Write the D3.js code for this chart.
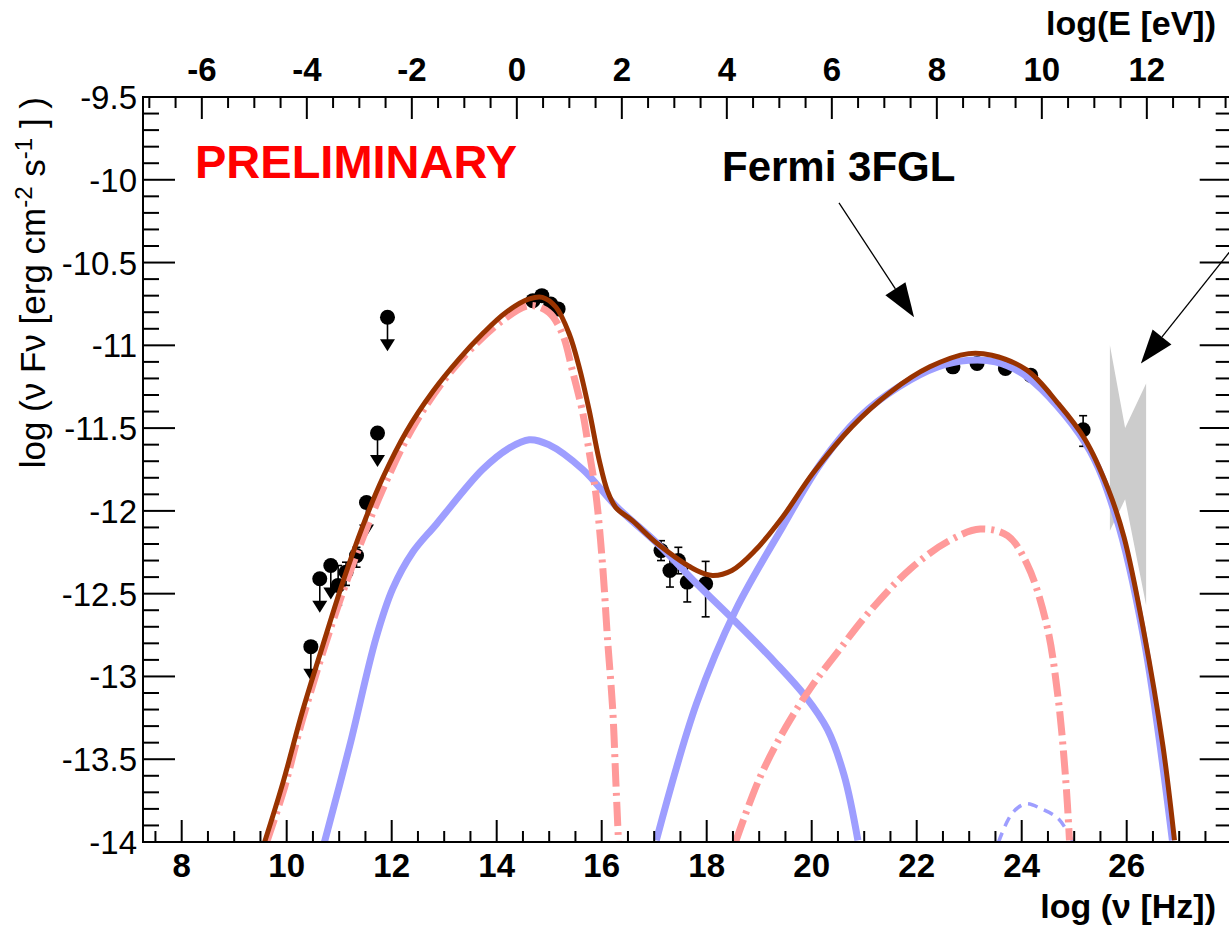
<!DOCTYPE html>
<html>
<head>
<meta charset="UTF-8">
<script src="https://d3js.org/d3.v7.min.js"></script>
<style>
  body { margin: 0; background: #fff; }
  text { font-family: "Liberation Sans", Arial, sans-serif; }
</style>
</head>
<body>
<svg id="chart" width="1229" height="933"></svg>
<script>
// ---- data: [log nu, log nuFnu] ----
const totalModel = [[9.58,-14.0],[9.93,-13.64],[10.31,-13.20],[10.69,-12.81],[11.07,-12.43],[11.45,-12.09],[11.83,-11.80],[12.28,-11.52],[12.78,-11.28],[13.29,-11.08],[13.73,-10.93],[14.18,-10.80],[14.62,-10.72],[14.87,-10.71],[15.13,-10.77],[15.38,-10.93],[15.57,-11.13],[15.76,-11.39],[15.95,-11.69],[16.11,-11.88],[16.27,-11.98],[16.59,-12.06],[17.07,-12.20],[17.81,-12.36],[18.11,-12.39],[18.48,-12.36],[18.92,-12.24],[19.44,-12.04],[20.03,-11.77],[20.77,-11.49],[21.51,-11.28],[22.25,-11.13],[22.99,-11.05],[23.43,-11.06],[24.10,-11.15],[24.69,-11.35],[25.21,-11.57],[25.65,-11.87],[25.95,-12.16],[26.32,-12.72],[26.69,-13.42],[26.91,-13.99]];
const synchroA = [[9.62,-14.0],[9.95,-13.68],[10.31,-13.25],[11.07,-12.49],[11.83,-11.87],[12.47,-11.46],[13.23,-11.12],[14.11,-10.85],[14.62,-10.76],[14.99,-10.80],[15.25,-10.93],[15.44,-11.15],[15.64,-11.41],[15.76,-11.64],[15.89,-11.90],[16.02,-12.34],[16.11,-12.77],[16.21,-13.20],[16.27,-13.64],[16.32,-14.0]];
const synchroB = [[10.72,-14.0],[11.20,-13.42],[11.70,-12.77],[12.02,-12.47],[12.40,-12.25],[12.85,-12.08],[13.73,-11.75],[14.24,-11.62],[14.62,-11.57],[14.99,-11.60],[15.64,-11.75],[16.27,-11.97],[17.07,-12.20],[17.81,-12.44],[18.55,-12.67],[19.29,-12.91],[19.88,-13.12],[20.30,-13.32],[20.62,-13.60],[20.88,-13.99]];
const icB = [[17.04,-13.99],[17.81,-13.16],[18.55,-12.60],[19.44,-12.10],[20.18,-11.71],[20.92,-11.43],[21.66,-11.25],[22.40,-11.13],[22.99,-11.09],[23.50,-11.10],[24.10,-11.19],[25.21,-11.59],[25.80,-12.04],[26.32,-12.76],[26.87,-13.99]];
const icA = [[18.55,-14.0],[19.0,-13.62],[19.5,-13.31],[20.0,-13.06],[20.5,-12.85],[21.07,-12.62],[21.88,-12.35],[22.62,-12.18],[23.21,-12.11],[23.73,-12.15],[24.10,-12.32],[24.47,-12.68],[24.69,-13.12],[24.84,-13.63],[24.91,-13.99]];
const ecComp = [[23.56,-14.0],[23.81,-13.83],[24.07,-13.77],[24.38,-13.80],[24.70,-13.86],[24.98,-14.0]];

// detections: log nu, log flux, lower err, upper err
const detNu   = [10.98, 11.13, 11.33, 14.69, 14.86, 15.03, 15.17, 17.13, 17.30, 17.46, 17.63, 17.98, 22.69, 23.15, 23.69, 24.17, 25.17];
const detFlux = [-12.45, -12.37, -12.27, -10.73, -10.70, -10.75, -10.78, -12.24, -12.36, -12.30, -12.43, -12.44, -11.13, -11.11, -11.14, -11.18, -11.51];
const detErrLo = [0.12, 0.08, 0.07, 0, 0, 0, 0, 0.06, 0.10, 0.08, 0.12, 0.20, 0, 0, 0, 0, 0.10];
const detErrHi = [0.12, 0.06, 0.05, 0, 0, 0, 0, 0.06, 0.09, 0.08, 0.10, 0.135, 0, 0, 0, 0, 0.085];
// upper limits
const ulNu   = [10.46, 10.63, 10.84, 11.52, 11.73, 11.92];
const ulFlux = [-12.82, -12.41, -12.33, -11.95, -11.53, -10.83];
// 3FHL-like butterfly
const bowtie = [[25.68,-11.00],[25.97,-11.50],[26.37,-11.23],[26.37,-12.57],[25.97,-11.93],[25.68,-12.12]];

const xTicks = d3.range(8, 27, 2);
const yTicks = d3.range(-14, -9.49, 0.5);
const eTicks = d3.range(-6, 13, 2);
const logH = Math.log10(4.135667e-15); // eV s

const W = 1229, H = 933;
const svg = d3.select("#chart");
svg.append("rect").attr("width", W).attr("height", H).attr("fill", "#fff");

const x = d3.scaleLinear().domain([7.263, 28]).range([143, 1231.7]);
const y = d3.scaleLinear().domain([-14, -9.5]).range([842, 97]);
const [x0, x1] = x.range(), [y0, y1] = y.range();

svg.append("defs").append("clipPath").attr("id", "clip")
  .append("rect").attr("x", x0).attr("y", y1).attr("width", x1 - x0).attr("height", y0 - y1);
const plot = svg.append("g").attr("clip-path", "url(#clip)");

// butterfly
plot.append("path")
  .attr("d", d3.line().x(d => x(d[0])).y(d => y(d[1]))(bowtie) + "Z")
  .attr("fill", "#cccccc");

// data points
const det = detNu.map((n, i) => ({n, f: detFlux[i], lo: detErrLo[i], hi: detErrHi[i]}));
const ul = ulNu.map((n, i) => ({n, f: ulFlux[i]}));

const eb = plot.append("g").attr("stroke", "#000").attr("stroke-width", 1.6);
det.filter(d => d.lo > 0).forEach(d => {
  const cx = x(d.n);
  eb.append("line").attr("x1", cx).attr("x2", cx).attr("y1", y(d.f - d.lo)).attr("y2", y(d.f + d.hi));
  eb.append("line").attr("x1", cx - 4).attr("x2", cx + 4).attr("y1", y(d.f - d.lo)).attr("y2", y(d.f - d.lo));
  eb.append("line").attr("x1", cx - 4).attr("x2", cx + 4).attr("y1", y(d.f + d.hi)).attr("y2", y(d.f + d.hi));
});
ul.forEach(d => {
  const cx = x(d.n), cy = y(d.f);
  eb.append("line").attr("x1", cx).attr("x2", cx).attr("y1", cy).attr("y2", cy + 23);
  plot.append("path").attr("d", `M${cx - 7.5},${cy + 22}L${cx + 7.5},${cy + 22}L${cx},${cy + 34}Z`).attr("fill", "#000");
});
plot.selectAll(".pt").data(det.concat(ul)).enter().append("circle")
  .attr("cx", d => x(d.n)).attr("cy", d => y(d.f)).attr("r", 7.5).attr("fill", "#000");

// model curves
const line = d3.line().x(d => x(d[0])).y(d => y(d[1])).curve(d3.curveCatmullRom.alpha(0.5));
function curve(data, color, width, dash) {
  plot.append("path").attr("d", line(data)).attr("fill", "none")
    .attr("stroke", color).attr("stroke-width", width)
    .attr("stroke-dasharray", dash || null);
}
curve(synchroB, "#9e9eff", 7);
curve(icB, "#9e9eff", 7);
curve(ecComp, "#9e9eff", 3.5, "10,7");
curve(synchroA, "#ff9a9a", 7, "24,6,3,6");
curve(icA, "#ff9a9a", 7, "24,6,3,6");
curve(totalModel, "#993300", 5);

// frame and ticks
const axes = svg.append("g").attr("stroke", "#000").attr("stroke-width", 2);
axes.append("rect").attr("x", x0).attr("y", y1).attr("width", x1 - x0).attr("height", y0 - y1).attr("fill", "none");
const isMaj = (v, s) => Math.abs(v / s - Math.round(v / s)) < 1e-6;
d3.range(7.5, 28.01, 0.5).forEach(v => {
  const L = isMaj(v, 2) ? 22 : 11;
  axes.append("line").attr("x1", x(v)).attr("x2", x(v)).attr("y1", y0).attr("y2", y0 - L);
});
d3.range(-7, 13.6, 0.5).forEach(e => {
  const px = x(e - logH);
  if (px < x0 || px > x1) return;
  const L = isMaj(e, 2) ? 22 : 11;
  axes.append("line").attr("x1", px).attr("x2", px).attr("y1", y1).attr("y2", y1 + L);
});
d3.range(-14, -9.49, 0.1).forEach(v => {
  const L = isMaj(v, 0.5) ? 32 : 16;
  axes.append("line").attr("x1", x0).attr("x2", x0 + L).attr("y1", y(v)).attr("y2", y(v));
  axes.append("line").attr("x1", x1).attr("x2", x1 - L).attr("y1", y(v)).attr("y2", y(v));
});

// tick labels
svg.append("g").selectAll("text").data(xTicks).enter().append("text")
  .attr("x", d => x(d)).attr("y", 877).attr("text-anchor", "middle")
  .attr("font-size", 33).attr("font-weight", "bold").text(d => d);
svg.append("g").selectAll("text").data(eTicks).enter().append("text")
  .attr("x", d => x(d - logH)).attr("y", 81).attr("text-anchor", "middle")
  .attr("font-size", 33).attr("font-weight", "bold").text(d => d);
svg.append("g").selectAll("text").data(yTicks).enter().append("text")
  .attr("x", 137).attr("y", d => y(d) + 12).attr("text-anchor", "end")
  .attr("font-size", 33).text(d => d);

// axis titles
svg.append("text").attr("x", 1216).attr("y", 918).attr("text-anchor", "end")
  .attr("font-size", 34).attr("font-weight", "bold").text("log (\u03bd [Hz])");
svg.append("text").attr("x", 1216).attr("y", 35).attr("text-anchor", "end")
  .attr("font-size", 34).attr("font-weight", "bold").text("log(E [eV])");
const yt = svg.append("text").attr("transform", "translate(45,97) rotate(-90)")
  .attr("text-anchor", "end").attr("font-size", 35);
yt.append("tspan").text("log (\u03bd F\u03bd [erg cm");
yt.append("tspan").attr("dy", -13).attr("font-size", 24).text("-2");
yt.append("tspan").attr("dy", 13).text(" s");
yt.append("tspan").attr("dy", -13).attr("font-size", 24).text("-1");
yt.append("tspan").attr("dy", 13).text(" ] )");

// annotations
svg.append("text").attr("x", 195).attr("y", 178).attr("fill", "#ff0000")
  .attr("font-size", 47).attr("font-weight", "bold").text("PRELIMINARY");
svg.append("text").attr("x", 722).attr("y", 181)
  .attr("font-size", 42).attr("font-weight", "bold").text("Fermi 3FGL");

function arrow(a, b) {
  const ax = x(a[0]), ay = y(a[1]), bx = x(b[0]), by = y(b[1]);
  const dx = bx - ax, dy = by - ay, len = Math.hypot(dx, dy);
  const ux = dx / len, uy = dy / len, hl = 34, hw = 12;
  svg.append("line").attr("x1", ax).attr("y1", ay).attr("x2", bx - ux * hl).attr("y2", by - uy * hl)
    .attr("stroke", "#000").attr("stroke-width", 1.3);
  const bxm = bx - ux * hl, bym = by - uy * hl;
  svg.append("path").attr("d", `M${bx},${by}L${bxm - uy * hw},${bym + ux * hw}L${bxm + uy * hw},${bym - ux * hw}Z`)
    .attr("fill", "#000");
}
arrow([20.52, -10.14], [21.95, -10.83]);
arrow([28.3, -10.30], [26.27, -11.11]);
</script>
</body>
</html>
